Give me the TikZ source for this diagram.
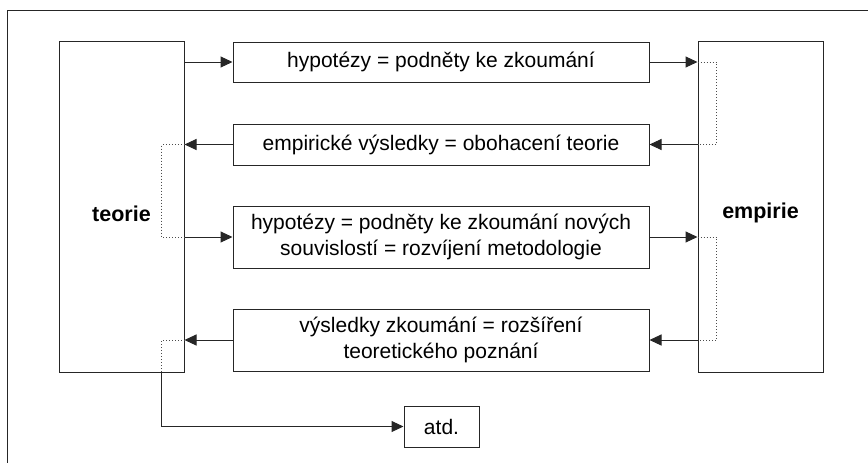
\documentclass[tikz,border=0pt]{standalone}
\usepackage{fontspec}
\setmainfont{Liberation Sans}
\usetikzlibrary{arrows.meta}
\begin{document}
\begin{tikzpicture}[x=1pt,y=-1pt,
  box/.style={draw=black!85,line width=1pt,inner sep=0pt,font=\fontsize{21}{25.5}\selectfont,align=center},
  big/.style={draw=black!85,line width=1pt,inner sep=0pt,minimum width=125pt,minimum height=331pt},
  lbl/.style={font=\fontsize{21.5}{24}\selectfont\bfseries,inner sep=0pt},
  arr/.style={line width=1pt,draw=black!85,-{Triangle[length=12pt,width=11pt]}},
  dot/.style={line width=1pt,draw=black!70,dotted}]
\useasboundingbox (0,0) rectangle (868,463);
\coordinate (fbl) at (7,463);
\coordinate (ftl) at (7,10);
\coordinate (ftr) at (868,10);
\draw[line width=1pt,black!85] (fbl) -- (ftl) -- (ftr);
\node[big] (teorie) at (121.5,206.5) {};
\node[big] (empirie) at (760.5,206.5) {};
\node[lbl] (tl) at (121.5,214) {teorie};
\node[lbl] (el) at (760.5,213) {empirie};
\node[box,minimum width=416pt,minimum height=40pt] (b1) at (441,62) {hypotézy = podněty ke zkoumání};
\node[box,minimum width=416pt,minimum height=41pt] (b2) at (441,144.5) {empirické výsledky = obohacení teorie};
\node[box,minimum width=416pt,minimum height=62pt] (b3) at (441,237) {hypotézy = podněty ke zkoumání nových\\souvislostí = rozvíjení metodologie};
\node[box,minimum width=416pt,minimum height=62pt] (b4) at (441,340) {výsledky zkoumání = rozšíření\\teoretického poznání};
\node[box,minimum width=75pt,minimum height=41pt] (atd) at (441.5,426.5) {atd.};
% arrows
\draw[arr] (teorie.east |- b1.west) -- (b1.west);
\draw[arr] (b1.east) -- (empirie.west |- b1.east);
\draw[arr] (b2.west) -- (teorie.east |- b2.west);
\draw[arr] (empirie.west |- b2.east) -- (b2.east);
\draw[arr] (teorie.east |- b3.west) -- (b3.west);
\draw[arr] (b3.east) -- (empirie.west |- b3.east);
\draw[arr] (b4.west) -- (teorie.east |- b4.west);
\draw[arr] (empirie.west |- b4.east) -- (b4.east);
% dotted links
\draw[dot] (teorie.east |- b2.west) -- ++(-23,0) |- (teorie.east |- b3.west);
\draw[dot] (empirie.west |- b1.east) -- ++(19,0) |- (empirie.west |- b2.east);
\draw[dot] (empirie.west |- b3.east) -- ++(19,0) |- (empirie.west |- b4.east);
\coordinate (bx) at ([xshift=-23pt]teorie.south east);
\draw[dot] (teorie.east |- b4.west) -| (bx);
\draw[arr] (bx) |- (atd.west);
\end{tikzpicture}
\end{document}
